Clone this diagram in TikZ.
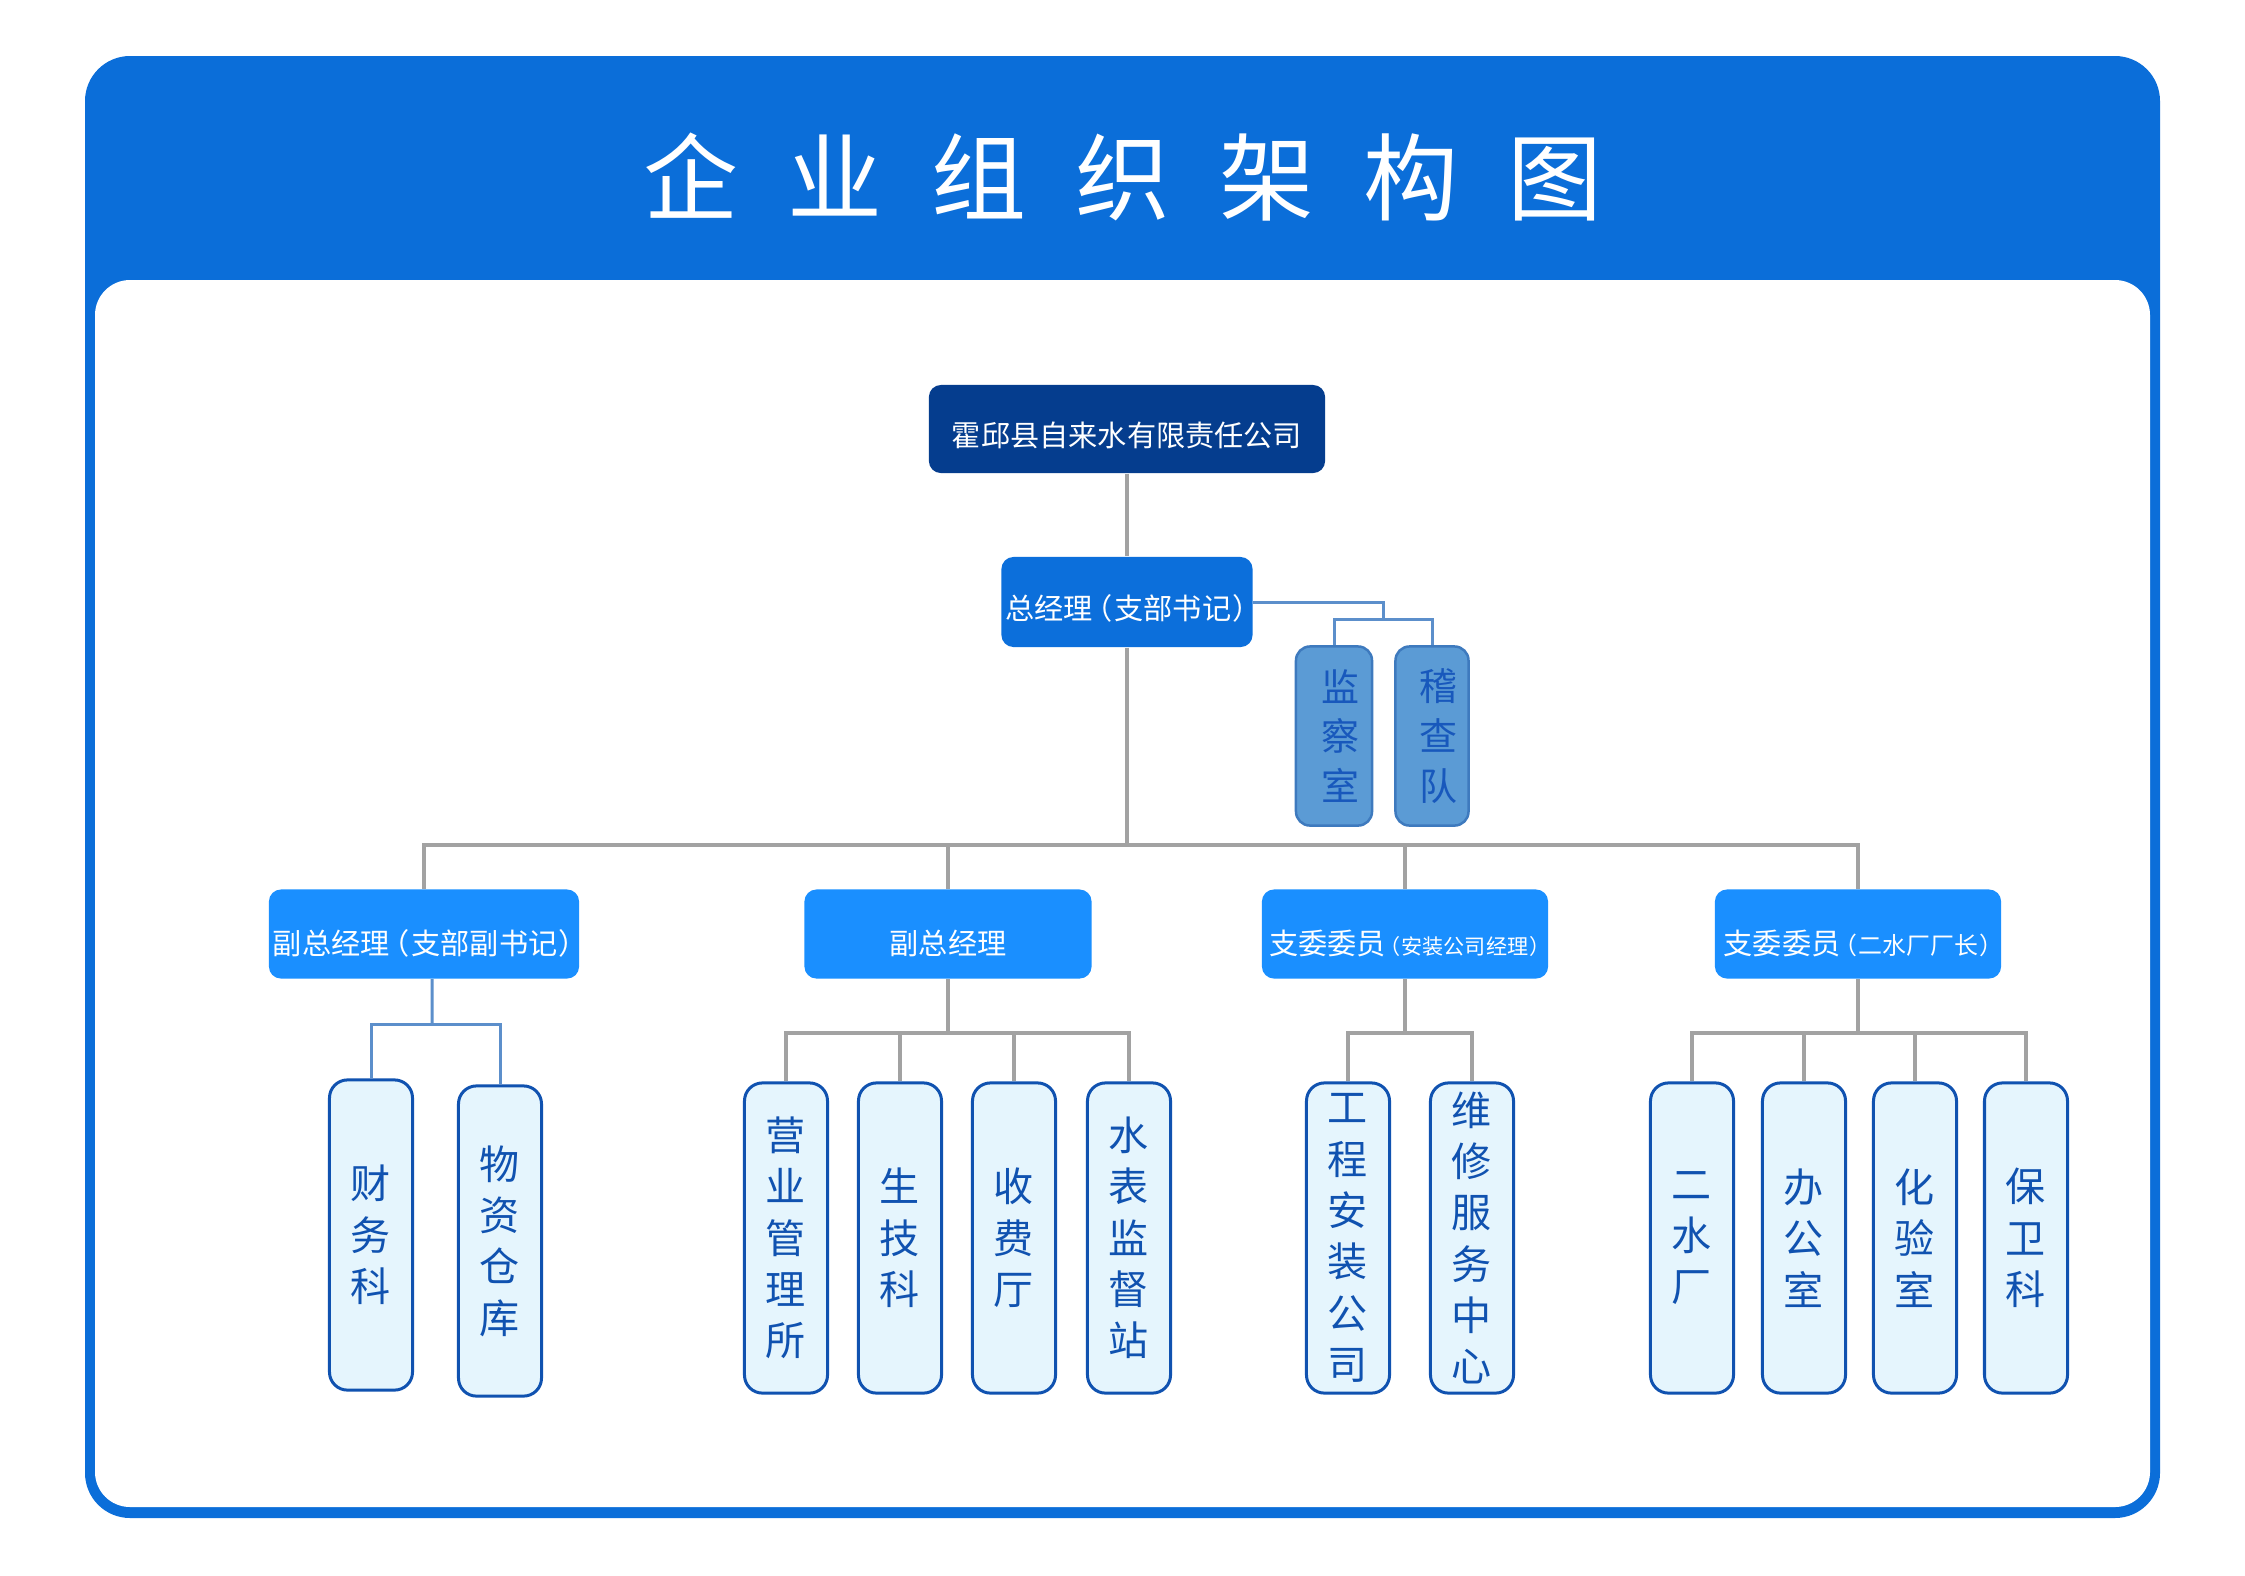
\documentclass[tikz,border=0pt]{standalone}
\usepackage{fontspec}
\setmainfont{Noto Sans CJK SC}
\definecolor{moldura}{RGB}{11,110,217}
\definecolor{marinho}{RGB}{5,61,142}
\definecolor{azul}{RGB}{12,111,219}
\definecolor{celeste}{RGB}{26,143,255}
\definecolor{claro}{RGB}{229,245,253}
\definecolor{borda}{RGB}{16,82,176}
\definecolor{fiscalfundo}{RGB}{91,155,213}
\definecolor{fiscalborda}{RGB}{62,122,190}
\definecolor{fiscaltexto}{RGB}{24,88,188}
\definecolor{linha}{RGB}{162,162,162}
\definecolor{acoazul}{RGB}{92,143,203}
\newcommand{\pa}{\kern-0.3em（\kern0.05em}
\newcommand{\pf}{\kern0.05em）\kern-0.45em}
\begin{document}
\begin{tikzpicture}[x=0.01cm, y=-0.01cm,
    caixa/.style={rounded corners=0.12cm, text=white, inner sep=0pt, text height=3.4mm, text depth=0pt, font=\fontsize{8.3}{10}\selectfont},
    vice/.style={caixa, fill=celeste, minimum width=2.87cm, minimum height=0.89cm, text height=4mm},
    fiscal/.style={draw=fiscalborda, line width=0.025cm, fill=fiscalfundo, rounded corners=0.14cm, minimum width=0.76cm, minimum height=1.79cm, inner sep=0pt, align=center, text=fiscaltexto, font=\fontsize{10.8}{14.2}\selectfont},
    setor/.style={draw=borda, line width=0.03cm, fill=claro, rounded corners=0.18cm, minimum width=0.83cm, minimum height=3.1cm, inner sep=0pt, align=center, text=borda, font=\fontsize{11.4}{14.6}\selectfont},
    cinza/.style={draw=linha, line width=0.033cm},
    ligacao/.style={draw=acoazul, line width=0.03cm}]
    \useasboundingbox (0,0) rectangle (2245,1575);
    \fill[white] (0,0) rectangle (2245,1575); % Fundo
    \fill[moldura, rounded corners=0.45cm] (85,56) rectangle (2160,1518); % Moldura azul
    \fill[white, rounded corners=0.35cm] (95,280) rectangle (2150,1507); % Area branca
    \node[text=white, font=\fontsize{27}{30}\selectfont] (titulo) at (1123,177) {企\hspace{4.9mm}业\hspace{4.9mm}组\hspace{4.9mm}织\hspace{4.9mm}架\hspace{4.9mm}构\hspace{4.9mm}图}; % Titulo

    % Topo
    \node[caixa, fill=marinho, minimum width=3.96cm, minimum height=0.88cm] (empresa) at (1127,429) {霍邱县自来水有限责任公司};
    \node[caixa, fill=azul, minimum width=2.51cm, minimum height=0.9cm] (gerente) at (1127,602) {总经理\pa 支部书记\pf};
    \node[fiscal] (jc) at (1334,736) {\hspace{0.12cm}监\\\hspace{0.12cm}察\\\hspace{0.12cm}室};
    \node[fiscal, minimum width=0.73cm] (jd) at (1432,736) {\hspace{0.12cm}稽\\\hspace{0.12cm}查\\\hspace{0.12cm}队};

    % Vice-gerentes
    \node[vice, minimum width=3.1cm] (v1) at (424,934) {副总经理\pa 支部副书记\pf};
    \node[vice] (v2) at (948,934) {副总经理};
    \node[vice, minimum width=2.86cm] (v3) at (1405,934) {支委委员{\fontsize{6}{7}\selectfont\pa 安装公司经理\pf}};
    \node[vice, minimum width=2.86cm] (v4) at (1858,934) {支委委员{\fontsize{6.8}{8}\selectfont\pa 二水厂厂长\pf}};

    % Setores
    \node[setor] (cw) at (371,1235) {财\\务\\科};
    \node[setor] (wz) at (500,1241) {物\\资\\仓\\库};
    \node[setor] (yy) at (786,1238) {营\\业\\管\\理\\所};
    \node[setor] (sj) at (900,1238) {生\\技\\科};
    \node[setor] (sf) at (1014,1238) {收\\费\\厅};
    \node[setor] (sb) at (1129,1238) {水\\表\\监\\督\\站};
    \node[setor] (gc) at (1348,1238) {工\\程\\安\\装\\公\\司};
    \node[setor] (wx) at (1472,1238) {维\\修\\服\\务\\中\\心};
    \node[setor] (es) at (1692,1238) {二\\水\\厂};
    \node[setor] (bg) at (1804,1238) {办\\公\\室};
    \node[setor] (hy) at (1915,1238) {化\\验\\室};
    \node[setor] (bw) at (2026,1238) {保\\卫\\科};

    % Ligacoes
    \coordinate (barra) at (1127,845);
    \coordinate (b0) at (1383,619);
    \coordinate (b1) at (432,1024);
    \coordinate (b2) at (948,1033);
    \coordinate (b3) at (1405,1033);
    \coordinate (b4) at (1858,1033);
    \draw[cinza] (empresa) -- (gerente); % Empresa ao gerente
    \draw[cinza] (gerente) -- (barra); % Gerente a barra
    \draw[cinza] (v1.north) -- (v1.north |- barra) -- (v4.north |- barra) -- (v4.north); % Barra principal
    \draw[cinza] (v2.north) -- (v2.north |- barra);
    \draw[cinza] (v3.north) -- (v3.north |- barra);
    \draw[ligacao] (gerente.east) -| (b0); % Fiscalizacao
    \draw[ligacao] (jc.north) |- (b0) -| (jd.north);
    \draw[ligacao] ([xshift=0.08cm]v1.south) -- (b1); % Grupo 1
    \draw[ligacao] (cw.north) |- (b1) -| (wz.north);
    \draw[cinza] (v2.south) -- (b2); % Grupo 2
    \draw[cinza] (yy.north) -- (yy.north |- b2) -- (sb.north |- b2) -- (sb.north);
    \foreach \n in {sj,sf} \draw[cinza] (\n.north) -- (\n.north |- b2);
    \draw[cinza] (v3.south) -- (b3); % Grupo 3
    \draw[cinza] (gc.north) |- (b3) -| (wx.north);
    \draw[cinza] (v4.south) -- (b4); % Grupo 4
    \draw[cinza] (es.north) -- (es.north |- b4) -- (bw.north |- b4) -- (bw.north);
    \foreach \n in {bg,hy} \draw[cinza] (\n.north) -- (\n.north |- b4);
\end{tikzpicture}
\end{document}
